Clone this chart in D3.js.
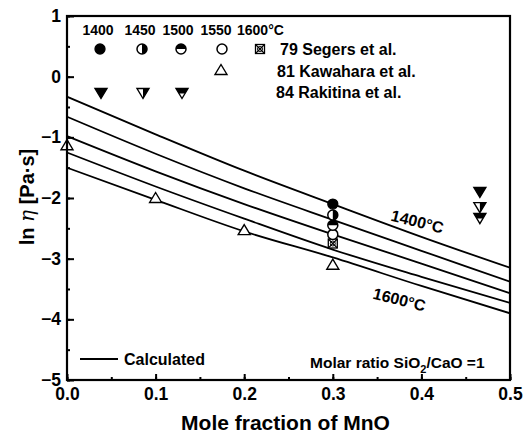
<!DOCTYPE html>
<html>
<head>
<meta charset="utf-8">
<script src="https://cdn.jsdelivr.net/npm/d3@7/dist/d3.min.js"></script>
<style>
html,body{margin:0;padding:0;background:#fff;}
svg{display:block;font-family:"Liberation Sans",Arial,sans-serif;font-weight:bold;}
</style>
</head>
<body>
<svg id="chart" width="527" height="436"></svg>
<script>
// ---- data ----
const xGrid = [0, 0.1, 0.2, 0.3, 0.4, 0.5];
const calc1400 = [-0.33, -0.95, -1.55, -2.10, -2.64, -3.15];
const calc1450 = [-0.66, -1.27, -1.84, -2.36, -2.87, -3.38];
const calc1500 = [-0.98, -1.56, -2.10, -2.60, -3.08, -3.57];
const calc1550 = [-1.25, -1.81, -2.34, -2.85, -3.30, -3.73];
const calc1600 = [-1.50, -2.03, -2.55, -2.98, -3.45, -3.90];
const calcSeries = [calc1400, calc1450, calc1500, calc1550, calc1600];

const segersX = [0.3, 0.3, 0.3, 0.3, 0.3];
const segersY = [-2.10, -2.28, -2.45, -2.60, -2.75];
const segersMarks = ["filled", "rightHalf", "topHalf", "open", "crossSquare"];

const kawaharaX = [0.0, 0.1, 0.2, 0.3];
const kawaharaY = [-1.13, -2.00, -2.53, -3.10];

const rakitinaX = [0.466, 0.466, 0.466];
const rakitinaY = [-1.90, -2.15, -2.33];
const rakitinaMarks = ["triDownFilled", "triDownRight", "triDownTop"];

const xTicks = [0.0, 0.1, 0.2, 0.3, 0.4, 0.5];
const yTicks = [-5, -4, -3, -2, -1, 0, 1];
const tempLabels = ["1400", "1450", "1500", "1550", "1600°C"];

// ---- layout ----
const svg = d3.select("#chart");
const L = 67, R = 510, T = 16, B = 380;
const x = d3.scaleLinear().domain([0, 0.5]).range([L, R]);
const y = d3.scaleLinear().domain([-5, 1]).range([B, T]);

// calculated curves
const line = d3.line().x((d, i) => x(xGrid[i])).y(d => y(d)).curve(d3.curveMonotoneX);
svg.append("g").selectAll("path").data(calcSeries).join("path")
  .attr("d", d => line(d)).attr("fill", "none").attr("stroke", "#000").attr("stroke-width", 1.8);

// marker helper
function marker(g, type, cx, cy) {
  const r = 5;
  const s = g.append("g").attr("transform", `translate(${cx},${cy})`);
  if (type === "filled") {
    s.append("circle").attr("r", r).attr("fill", "#000").attr("stroke", "#000").attr("stroke-width", 1.3);
  } else if (type === "open") {
    s.append("circle").attr("r", r).attr("fill", "#fff").attr("stroke", "#000").attr("stroke-width", 1.5);
  } else if (type === "rightHalf") {
    s.append("circle").attr("r", r).attr("fill", "#fff").attr("stroke", "#000").attr("stroke-width", 1.5);
    s.append("path").attr("d", `M0,${-r}A${r},${r} 0 0 1 0,${r}Z`).attr("fill", "#000");
  } else if (type === "topHalf") {
    s.append("circle").attr("r", r).attr("fill", "#fff").attr("stroke", "#000").attr("stroke-width", 1.5);
    s.append("path").attr("d", `M${-r},0A${r},${r} 0 0 1 ${r},0Z`).attr("fill", "#000");
  } else if (type === "crossSquare") {
    const h = 4.5;
    s.append("rect").attr("x", -h).attr("y", -h).attr("width", 2 * h).attr("height", 2 * h)
      .attr("fill", "#fff").attr("stroke", "#000").attr("stroke-width", 1.3);
    s.append("path").attr("d", `M${-h},${-h}L${h},${h}M${h},${-h}L${-h},${h}`).attr("stroke", "#000").attr("stroke-width", 1.1);
    s.append("circle").attr("r", 2.5).attr("fill", "none").attr("stroke", "#000").attr("stroke-width", 1);
  } else if (type === "triUp") {
    s.append("path").attr("d", "M0,-5.5L6,4.5L-6,4.5Z").attr("fill", "#fff").attr("stroke", "#000").attr("stroke-width", 1.4);
  } else if (type === "triDownFilled") {
    s.append("path").attr("d", "M0,5.5L6,-4.5L-6,-4.5Z").attr("fill", "#000").attr("stroke", "#000").attr("stroke-width", 1.4);
  } else if (type === "triDownRight") {
    s.append("path").attr("d", "M0,5.5L6,-4.5L-6,-4.5Z").attr("fill", "#fff").attr("stroke", "#000").attr("stroke-width", 1.4);
    s.append("path").attr("d", "M0,5.5L6,-4.5L0,-4.5Z").attr("fill", "#000");
  } else if (type === "triDownTop") {
    s.append("path").attr("d", "M0,5.5L6,-4.5L-6,-4.5Z").attr("fill", "#fff").attr("stroke", "#000").attr("stroke-width", 1.4);
    s.append("path").attr("d", "M-6,-4.5L6,-4.5L3,0.5L-3,0.5Z").attr("fill", "#000");
  }
}

// data points
const pts = svg.append("g");
kawaharaX.forEach((v, i) => marker(pts, "triUp", x(v), y(kawaharaY[i])));
segersX.slice().reverse().forEach((v, j) => {
  const i = segersX.length - 1 - j;
  marker(pts, segersMarks[i], x(v), y(segersY[i]));
});
rakitinaX.slice().reverse().forEach((v, j) => {
  const i = rakitinaX.length - 1 - j;
  marker(pts, rakitinaMarks[i], x(v), y(rakitinaY[i]));
});

// axes
const ax = svg.append("g");
ax.append("g").attr("transform", `translate(0,${B})`)
  .call(d3.axisBottom(x).tickValues(d3.range(0, 0.501, 0.05)).tickSize(-3).tickFormat(""))
  .call(g => g.select(".domain").remove());
ax.append("g").attr("transform", `translate(0,${B})`)
  .call(d3.axisBottom(x).tickValues(xTicks).tickSize(-6).tickPadding(8).tickFormat(d3.format(".1f")))
  .call(g => g.select(".domain").remove())
  .call(g => g.selectAll("text").attr("font-size", 17.5).attr("font-weight", "bold").attr("fill", "#000").attr("font-family", "Liberation Sans, Arial, sans-serif"));
ax.append("g").attr("transform", `translate(${L},0)`)
  .call(d3.axisLeft(y).tickValues(d3.range(-5, 1.01, 0.5)).tickSize(-3).tickFormat(""))
  .call(g => g.select(".domain").remove());
ax.append("g").attr("transform", `translate(${L},0)`)
  .call(d3.axisLeft(y).tickValues(yTicks).tickSize(-7).tickPadding(4).tickFormat(d3.format("d")))
  .call(g => g.select(".domain").remove())
  .call(g => g.selectAll("text").attr("font-size", 17.5).attr("font-weight", "bold").attr("fill", "#000").attr("font-family", "Liberation Sans, Arial, sans-serif").attr("x", -6));
ax.selectAll(".tick line").attr("stroke", "#000").attr("stroke-width", 2);
svg.append("rect").attr("x", L).attr("y", T).attr("width", R - L).attr("height", B - T)
  .attr("fill", "none").attr("stroke", "#000").attr("stroke-width", 2.2);

// axis titles
svg.append("text").attr("x", (L + R) / 2 - 3).attr("y", 430).attr("text-anchor", "middle")
  .attr("font-size", 21).text("Mole fraction of MnO");
const yl = svg.append("text").attr("transform", "translate(34,197) rotate(-90)").attr("text-anchor", "middle")
  .attr("font-size", 20);
yl.append("tspan").text("ln ");
yl.append("tspan").attr("font-style", "italic").attr("font-family", "DejaVu Serif, serif").attr("font-weight", "normal").text("η");
yl.append("tspan").text(" [Pa·s]");

// legend header
const hx = [98, 140, 178, 216, 237];
tempLabels.forEach((t, i) => {
  svg.append("text").attr("x", hx[i]).attr("y", 35).attr("text-anchor", i < 4 ? "middle" : "start")
    .attr("font-size", 14).text(t);
});
const row1x = [100, 142, 181, 222, 260];
segersMarks.forEach((m, i) => marker(svg, m, row1x[i], 49));
marker(svg, "triUp", 221, 70);
const row3x = [101, 143, 182];
rakitinaMarks.forEach((m, i) => marker(svg, m, row3x[i], 93));
svg.append("text").attr("x", 280).attr("y", 55).attr("font-size", 16).text("79 Segers et al.");
svg.append("text").attr("x", 277).attr("y", 77).attr("font-size", 16).text("81 Kawahara et al.");
svg.append("text").attr("x", 276).attr("y", 98).attr("font-size", 16).text("84 Rakitina et al.");

// curve labels
svg.append("text").attr("transform", "translate(416,227) rotate(14)").attr("text-anchor", "middle")
  .attr("font-size", 16).text("1400°C");
svg.append("text").attr("transform", "translate(398,305) rotate(14)").attr("text-anchor", "middle")
  .attr("font-size", 16).text("1600°C");

// bottom legends
svg.append("line").attr("x1", 80).attr("x2", 118).attr("y1", 359).attr("y2", 359).attr("stroke", "#000").attr("stroke-width", 1.8);
svg.append("text").attr("x", 124).attr("y", 365).attr("font-size", 16).text("Calculated");
const mr = svg.append("text").attr("x", 310).attr("y", 368).attr("font-size", 15.5);
mr.append("tspan").text("Molar ratio SiO");
mr.append("tspan").attr("font-size", 11).attr("dy", 5).text("2");
mr.append("tspan").attr("dy", -5).text("/CaO =1");
</script>
</body>
</html>
